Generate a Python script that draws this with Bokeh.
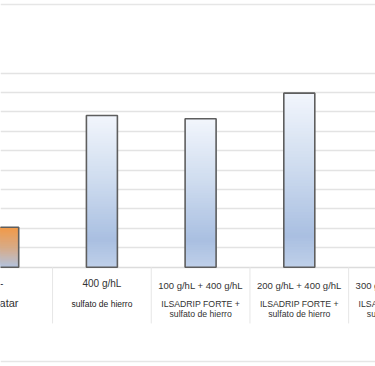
from bokeh.plotting import figure
from bokeh.models import Range1d
from bokeh.core.properties import value
from bokeh.embed import file_html
from bokeh.resources import INLINE

# ---- data ----
dose_labels = ["Testigo -", "400 g/hL", "100 g/hL + 400 g/hL",
               "200 g/hL + 400 g/hL", "300 g/hL + 400 g/hL"]
product_line1 = ["sin tratar", "sulfato de hierro", "ILSADRIP FORTE +",
                 "ILSADRIP FORTE +", "ILSADRIP FORTE +"]
product_line2 = ["", "", "sulfato de hierro", "sulfato de hierro", "sulfato de hierro"]
bar_values = [2.06, 7.82, 7.65, 8.97]
grid_ticks = [1, 2, 3, 4, 5, 6, 7, 8, 9, 10]

# ---- styles ----
BLUE_STOPS = [(0.0, "#bfd0e9"), (0.18, "#a9bfe1"), (0.55, "#ccdaee"), (1.0, "#f2f6fc")]
ORANGE_STOPS = [(0.0, "#b3c3de"), (0.5, "#d8aa85"), (1.0, "#f29a48")]
FONT = value("Liberation Sans")
HALF_W = 0.157
N_SLICES = 60


def hex2rgb(h):
    h = h.lstrip("#")
    return tuple(int(h[i:i + 2], 16) for i in (0, 2, 4))


def interp(stops, t):
    for (t0, c0), (t1, c1) in zip(stops[:-1], stops[1:]):
        if t <= t1:
            f = 0 if t1 == t0 else (t - t0) / (t1 - t0)
            a, b = hex2rgb(c0), hex2rgb(c1)
            return "#%02x%02x%02x" % tuple(int(round(a[k] + (b[k] - a[k]) * f)) for k in range(3))
    return stops[-1][1]


p = figure(width=375, height=366, output_backend="svg", toolbar_location=None,
           x_axis_type=None, y_axis_type=None, min_border=0,
           x_range=Range1d(-0.0274, 3.772), y_range=Range1d(-5.119, 13.747))
p.outline_line_color = None
p.background_fill_color = "white"
p.border_fill_color = "white"

# frame lines (top / bottom)
p.hspan(y=[13.54, -4.845], line_color="#e6e6e6", line_width=1.5)
# gridlines
p.hspan(y=grid_ticks, line_color="#e3e3e3", line_width=1.5)
p.hspan(y=[0], line_color="#dcdcdc", line_width=1.5)

# category separators
n_cat = len(dose_labels)
sep_x = [i + 0.5 for i in range(n_cat - 1)]
p.segment(x0=sep_x, x1=sep_x, y0=[0] * len(sep_x), y1=[-2.9] * len(sep_x),
          line_color="#e6e6e6", line_width=1)

# bars with gradient (each slice runs to the bar top; later slices cover upper part)
L, R, B, T, C = [], [], [], [], []
for i, v in enumerate(bar_values):
    stops = ORANGE_STOPS if i == 0 else BLUE_STOPS
    for k in range(N_SLICES):
        L.append(i - HALF_W)
        R.append(i + HALF_W)
        B.append(v * k / N_SLICES)
        T.append(v)
        C.append(interp(stops, (k + 0.5) / N_SLICES))
p.quad(left=L, right=R, bottom=B, top=T, fill_color=C, line_color=None)
xs = list(range(len(bar_values)))
p.quad(left=[x - HALF_W for x in xs], right=[x + HALF_W for x in xs],
       bottom=[0] * len(xs), top=bar_values, fill_color=None,
       line_color="#5e5e5e", line_width=1.6)

# labels
cats = list(range(n_cat))
# first category (larger font, mostly cut off at left)
p.text(x=[0], y=[-0.79], text=[dose_labels[0]], text_font=FONT, text_font_size="11px",
       text_align="right", text_baseline="middle", x_offset=0.3, text_color="#333333")
p.text(x=[0], y=[-1.87], text=[product_line1[0]], text_font=FONT, text_font_size="11px",
       text_align="right", text_baseline="middle", x_offset=15.3, text_color="#333333")
# second category
p.text(x=[1], y=[-0.84], text=[dose_labels[1]], text_font=FONT, text_font_size="10px",
       text_align="center", text_baseline="middle", text_color="#333333")
p.text(x=[1], y=[-1.92], text=[product_line1[1]], text_font=FONT, text_font_size="8.5px",
       text_align="center", text_baseline="middle", text_color="#222222")
# remaining categories
rest = cats[2:]
p.text(x=rest, y=[-0.92] * len(rest), text=dose_labels[2:], text_font=FONT,
       text_font_size="9.5px", text_align="center", text_baseline="middle", text_color="#333333")
p.text(x=rest, y=[-1.92] * len(rest), text=product_line1[2:], text_font=FONT,
       text_font_size="8.7px", text_align="center", text_baseline="middle", text_color="#333333")
p.text(x=rest, y=[-2.39] * len(rest), text=product_line2[2:], text_font=FONT,
       text_font_size="8.7px", text_align="center", text_baseline="middle", text_color="#333333")

open("out.html", "w").write(file_html(p, INLINE))
